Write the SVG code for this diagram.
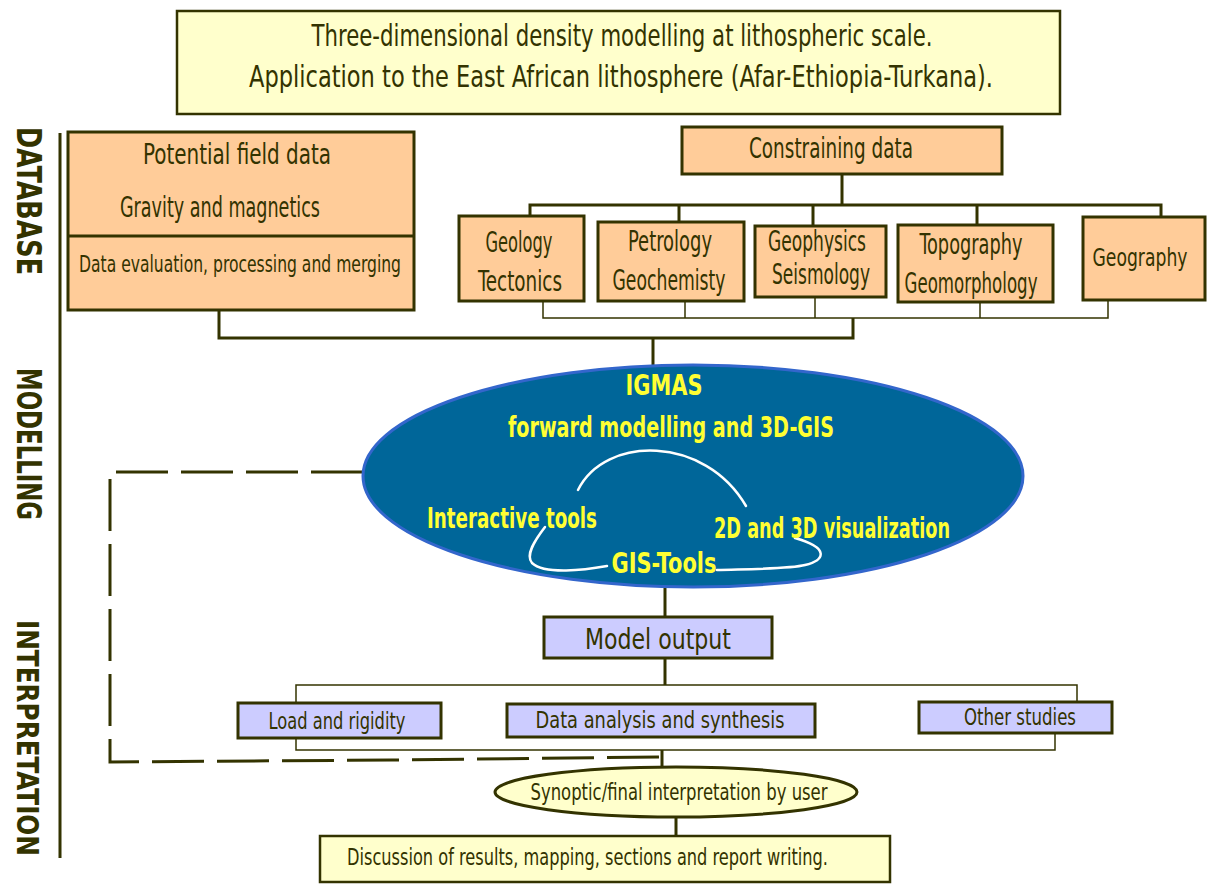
<svg xmlns="http://www.w3.org/2000/svg" width="1210" height="884" viewBox="0 0 1210 884">
<style>
text{font-family:"DejaVu Sans Condensed","Liberation Sans Narrow","Liberation Sans",sans-serif;fill:#333300;text-anchor:middle}
.t{font-size:31px}
.b{font-size:28px}
.s{font-size:23px}
.side{font-size:34px;font-weight:bold;text-anchor:start}
.y{fill:#ffff33;font-size:28px;font-weight:bold}
.box{fill:#ffcc99;stroke:#333300;stroke-width:3}
.vio{fill:#ccccff;stroke:#333300;stroke-width:3}
.cream{fill:#ffffcc;stroke:#333300;stroke-width:2.5}
.c{fill:none;stroke:#333300;stroke-width:3}
.thin{fill:none;stroke:#333300;stroke-width:1.5}
.w{fill:none;stroke:#ffffff;stroke-width:2.5;stroke-linecap:round}
</style>
<rect width="1210" height="884" fill="#ffffff"/>

<g id="connectors">
  <line class="c" x1="60" y1="133" x2="60" y2="858"/>
  <polyline class="c" points="219,310 219,338 853,338 853,318"/>
  <polyline class="thin" points="543,301 543,318 1108,318 1108,300"/>
  <line class="thin" x1="685" y1="301" x2="685" y2="318"/>
  <line class="thin" x1="815" y1="297" x2="815" y2="318"/>
  <line class="thin" x1="980" y1="302" x2="980" y2="318"/>
  <line class="c" x1="653" y1="338" x2="653" y2="366"/>
  <line class="c" x1="842" y1="174" x2="842" y2="205"/>
  <polyline class="c" points="530,216 530,205 1161,205 1161,217"/>
  <line class="c" x1="679" y1="205" x2="679" y2="222"/>
  <line class="c" x1="813" y1="205" x2="813" y2="226"/>
  <line class="c" x1="977" y1="205" x2="977" y2="225"/>
  <line class="c" x1="665" y1="588" x2="665" y2="617"/>
  <line class="c" x1="665" y1="658" x2="665" y2="685"/>
  <polyline class="thin" points="296,703 296,685 1077,685 1077,702"/>
  <polyline class="thin" points="296,738 296,750 1055,750 1055,733"/>
  <line class="c" x1="662" y1="750" x2="662" y2="768"/>
  <line class="c" x1="676" y1="817" x2="676" y2="836"/>
  <path class="c" d="M363,472 H110 V762 L392,760 L660,757" stroke-dasharray="52,13"/>
</g>

<g id="side-labels">
  <text class="side" transform="translate(17,127) rotate(90)" textLength="148" lengthAdjust="spacingAndGlyphs">DATABASE</text>
  <text class="side" transform="translate(17,368) rotate(90)" textLength="152" lengthAdjust="spacingAndGlyphs">MODELLING</text>
  <text class="side" transform="translate(17,620) rotate(90)" style="font-size:30px" textLength="236" lengthAdjust="spacingAndGlyphs">INTERPRETATION</text>
</g>

<g id="title">
  <rect class="cream" x="177" y="11" width="883" height="103"/>
  <text class="t" x="622" y="46" textLength="621" lengthAdjust="spacingAndGlyphs">Three-dimensional density modelling at lithospheric scale.</text>
  <text class="t" x="621" y="87" textLength="744" lengthAdjust="spacingAndGlyphs">Application to the East African lithosphere (Afar-Ethiopia-Turkana).</text>
</g>

<g id="potential-field">
  <rect class="box" x="68" y="132" width="346" height="178"/>
  <line class="c" x1="68" y1="236" x2="414" y2="236"/>
  <text class="b" x="237" y="164" textLength="188" lengthAdjust="spacingAndGlyphs">Potential field data</text>
  <text class="b" x="220" y="217" textLength="200" lengthAdjust="spacingAndGlyphs">Gravity and magnetics</text>
  <text class="s" x="240" y="272" textLength="322" lengthAdjust="spacingAndGlyphs">Data evaluation, processing and merging</text>
</g>

<g id="constraining">
  <rect class="box" x="682" y="127" width="320" height="47"/>
  <text class="b" x="831" y="158" textLength="164" lengthAdjust="spacingAndGlyphs">Constraining data</text>
</g>

<g id="geology">
  <rect class="box" x="459" y="216" width="125" height="85"/>
  <text class="b" x="519" y="252" textLength="67" lengthAdjust="spacingAndGlyphs">Geology</text>
  <text class="b" x="520" y="291" textLength="84" lengthAdjust="spacingAndGlyphs">Tectonics</text>
</g>
<g id="petrology">
  <rect class="box" x="598" y="222" width="146" height="79"/>
  <text class="b" x="670" y="251" textLength="84" lengthAdjust="spacingAndGlyphs">Petrology</text>
  <text class="b" x="669" y="290" textLength="113" lengthAdjust="spacingAndGlyphs">Geochemisty</text>
</g>
<g id="geophysics">
  <rect class="box" x="755" y="226" width="131" height="71"/>
  <text class="b" x="817" y="251" textLength="98" lengthAdjust="spacingAndGlyphs">Geophysics</text>
  <text class="b" x="821" y="284" textLength="98" lengthAdjust="spacingAndGlyphs">Seismology</text>
</g>
<g id="topography">
  <rect class="box" x="898" y="225" width="155" height="77"/>
  <text class="b" x="971" y="254" textLength="103" lengthAdjust="spacingAndGlyphs">Topography</text>
  <text class="b" x="971" y="293" textLength="133" lengthAdjust="spacingAndGlyphs">Geomorphology</text>
</g>
<g id="geography">
  <rect class="box" x="1083" y="217" width="122" height="83"/>
  <text class="b" x="1140" y="266" style="font-size:24px" textLength="95" lengthAdjust="spacingAndGlyphs">Geography</text>
</g>

<g id="igmas">
  <ellipse cx="693" cy="476" rx="330" ry="111" fill="#006699" stroke="#3366cc" stroke-width="3"/>
  <path class="w" d="M578,490 C605,435 705,435 746,506"/>
  <path class="w" d="M545,527 C535,540 525,555 532,563 C545,575 585,570 607,566"/>
  <path class="w" d="M717,570 C750,569 790,569 805,565 C825,560 830,548 795,538"/>
  <text class="y" x="664" y="395" textLength="77" lengthAdjust="spacingAndGlyphs">IGMAS</text>
  <text class="y" x="671" y="437" textLength="326" lengthAdjust="spacingAndGlyphs">forward modelling and 3D-GIS</text>
  <text class="y" x="512" y="528" textLength="170" lengthAdjust="spacingAndGlyphs">Interactive tools</text>
  <text class="y" x="832" y="538" textLength="236" lengthAdjust="spacingAndGlyphs">2D and 3D visualization</text>
  <text class="y" x="664" y="573" textLength="105" lengthAdjust="spacingAndGlyphs">GIS-Tools</text>
</g>

<g id="model-output">
  <rect class="vio" x="544" y="617" width="228" height="41"/>
  <text class="b" x="658" y="649" textLength="146" lengthAdjust="spacingAndGlyphs">Model  output</text>
</g>
<g id="load">
  <rect class="vio" x="238" y="703" width="203" height="35"/>
  <text class="s" x="337" y="729" textLength="137" lengthAdjust="spacingAndGlyphs">Load and rigidity</text>
</g>
<g id="data-analysis">
  <rect class="vio" x="507" y="704" width="308" height="33"/>
  <text class="s" x="660" y="728" textLength="249" lengthAdjust="spacingAndGlyphs">Data analysis and synthesis</text>
</g>
<g id="other">
  <rect class="vio" x="919" y="702" width="193" height="31"/>
  <text class="s" x="1020" y="725" textLength="112" lengthAdjust="spacingAndGlyphs">Other studies</text>
</g>

<g id="synoptic">
  <ellipse cx="676" cy="792" rx="181" ry="25" fill="#ffffcc" stroke="#333300" stroke-width="3"/>
  <text class="s" x="679" y="800" textLength="297" lengthAdjust="spacingAndGlyphs">Synoptic/final interpretation by user</text>
</g>
<g id="discussion">
  <rect class="cream" x="320" y="836" width="570" height="46" stroke-width="3"/>
  <text class="s" x="347" y="865" style="text-anchor:start" textLength="481" lengthAdjust="spacingAndGlyphs">Discussion of results, mapping, sections and report writing.</text>
</g>
</svg>
